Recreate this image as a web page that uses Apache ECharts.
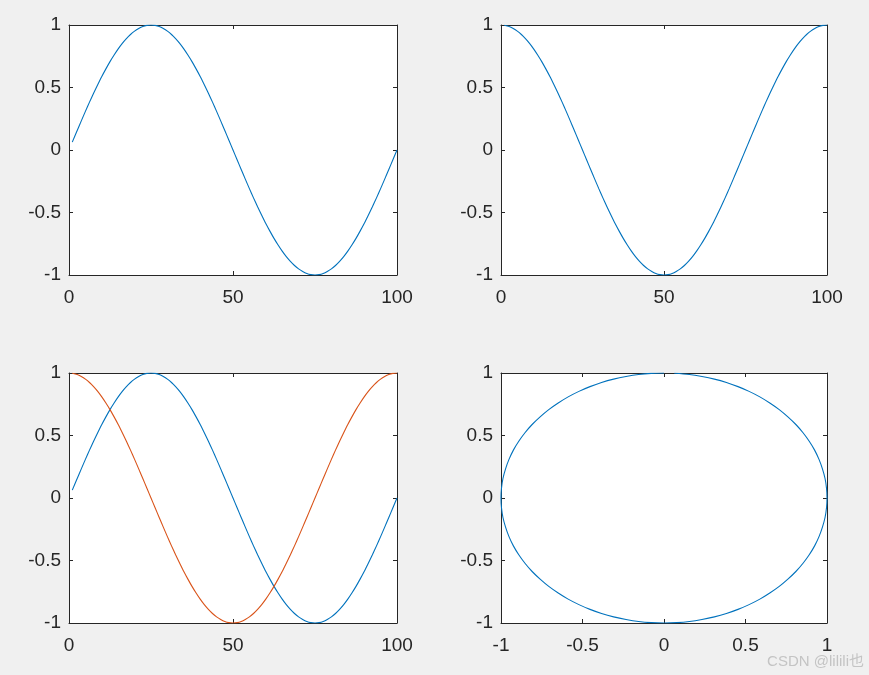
<!DOCTYPE html>
<html>
<head>
<meta charset="utf-8">
<script src="https://cdn.jsdelivr.net/npm/echarts@6/dist/echarts.min.js"></script>
<style>
  html, body { margin: 0; padding: 0; background: #f0f0f0; }
  #chart { width: 869px; height: 675px; }
</style>
</head>
<body>
<div id="chart"></div>
<script>
// sample positions along x (1..100)
const xs = [1, 2.5, 3.75, 5, 6.25, 7.5, 8.75, 10, 11.25, 12.5, 13.75, 15, 16.25, 17.5, 18.75,
  20, 21.25, 22.5, 23.75, 25, 26.25, 27.5, 28.75, 30, 31.25, 32.5, 33.75, 35, 36.25, 37.5,
  38.75, 40, 41.25, 42.5, 43.75, 45, 46.25, 47.5, 48.75, 50, 51.25, 52.5, 53.75, 55, 56.25,
  57.5, 58.75, 60, 61.25, 62.5, 63.75, 65, 66.25, 67.5, 68.75, 70, 71.25, 72.5, 73.75, 75,
  76.25, 77.5, 78.75, 80, 81.25, 82.5, 83.75, 85, 86.25, 87.5, 88.75, 90, 91.25, 92.5, 93.75,
  95, 96.25, 97.5, 98.75, 100];
const sinVals = [0.063, 0.156, 0.233, 0.309, 0.383, 0.454, 0.522, 0.588, 0.649, 0.707, 0.760,
  0.809, 0.853, 0.891, 0.924, 0.951, 0.972, 0.988, 0.997, 1,
  0.997, 0.988, 0.972, 0.951, 0.924, 0.891, 0.853, 0.809, 0.760, 0.707, 0.649, 0.588, 0.522,
  0.454, 0.383, 0.309, 0.233, 0.156, 0.078, 0,
  -0.078, -0.156, -0.233, -0.309, -0.383, -0.454, -0.522, -0.588, -0.649, -0.707, -0.760,
  -0.809, -0.853, -0.891, -0.924, -0.951, -0.972, -0.988, -0.997, -1,
  -0.997, -0.988, -0.972, -0.951, -0.924, -0.891, -0.853, -0.809, -0.760, -0.707, -0.649,
  -0.588, -0.522, -0.454, -0.383, -0.309, -0.233, -0.156, -0.078, 0];
const cosVals = [0.998, 0.988, 0.972, 0.951, 0.924, 0.891, 0.853, 0.809, 0.760, 0.707, 0.649,
  0.588, 0.522, 0.454, 0.383, 0.309, 0.233, 0.156, 0.078, 0,
  -0.078, -0.156, -0.233, -0.309, -0.383, -0.454, -0.522, -0.588, -0.649, -0.707, -0.760,
  -0.809, -0.853, -0.891, -0.924, -0.951, -0.972, -0.988, -0.997, -1,
  -0.997, -0.988, -0.972, -0.951, -0.924, -0.891, -0.853, -0.809, -0.760, -0.707, -0.649,
  -0.588, -0.522, -0.454, -0.383, -0.309, -0.233, -0.156, -0.078, 0,
  0.078, 0.156, 0.233, 0.309, 0.383, 0.454, 0.522, 0.588, 0.649, 0.707, 0.760, 0.809, 0.853,
  0.891, 0.924, 0.951, 0.972, 0.988, 0.997, 1];

const blue = "#0072BD";
const orange = "#D95319";
const ink = "#262626";
const font = "'Liberation Sans', Arial, sans-serif";

const grids = [
  { left: 69, top: 25, width: 328, height: 250 },
  { left: 501, top: 25, width: 326, height: 250 },
  { left: 69, top: 373, width: 328, height: 250 },
  { left: 501, top: 373, width: 326, height: 250 },
];
const xRanges = [
  { min: 0, max: 100, interval: 50 },
  { min: 0, max: 100, interval: 50 },
  { min: 0, max: 100, interval: 50 },
  { min: -1, max: 1, interval: 0.5 },
];

const xAxis = [];
const yAxis = [];
grids.forEach((g, i) => {
  const base = {
    type: "value",
    gridIndex: i,
    axisLine: { show: true, onZero: false, lineStyle: { color: ink, width: 1 } },
    axisTick: { show: true, inside: true, length: 4, lineStyle: { color: ink } },
    splitLine: { show: false },
  };
  xAxis.push({
    ...base, ...xRanges[i], position: "bottom",
    axisLabel: { color: ink, fontSize: 19, fontFamily: font, margin: 13 },
  });
  xAxis.push({
    ...base, ...xRanges[i], position: "top",
    axisLabel: { show: false },
  });
  yAxis.push({
    ...base, min: -1, max: 1, interval: 0.5, position: "left",
    axisLabel: { color: ink, fontSize: 19, fontFamily: font, margin: 8 },
  });
  yAxis.push({
    ...base, min: -1, max: 1, interval: 0.5, position: "right",
    axisLabel: { show: false },
  });
});

function line(gi, data, color) {
  return {
    type: "line",
    xAxisIndex: gi * 2,
    yAxisIndex: gi * 2,
    data: data,
    smooth: 0.3,
    symbol: "none",
    lineStyle: { color: color, width: 1.1 },
    silent: true,
  };
}

const sinPts = xs.map((x, i) => [x, sinVals[i]]);
const cosPts = xs.map((x, i) => [x, cosVals[i]]);
const circlePts = xs.map((x, i) => [sinVals[i], cosVals[i]]);

const chart = echarts.init(document.getElementById("chart"), null, { renderer: "canvas" });
chart.setOption({
  animation: false,
  backgroundColor: "#f0f0f0",
  grid: grids.map((g) => ({ ...g, show: true, backgroundColor: "#ffffff", borderWidth: 0 })),
  xAxis: xAxis,
  yAxis: yAxis,
  series: [
    line(0, sinPts, blue),
    line(1, cosPts, blue),
    line(2, sinPts, blue),
    line(2, cosPts, orange),
    line(3, circlePts, blue),
  ],
  graphic: [
    {
      type: "text",
      right: 5,
      bottom: 6,
      style: {
        text: "CSDN @lilili也",
        fill: "#c4c4c4",
        font: "15px 'Liberation Sans', 'Noto Sans CJK SC', sans-serif",
      },
    },
  ],
});
</script>
</body>
</html>
